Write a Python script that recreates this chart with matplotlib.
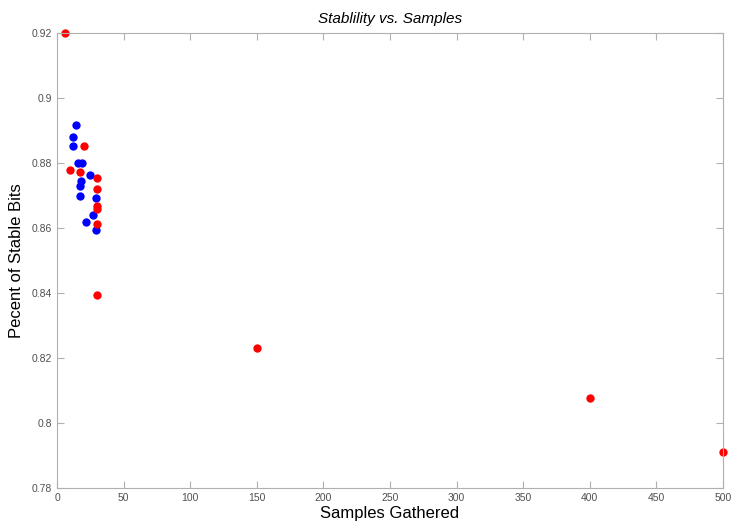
import matplotlib
matplotlib.use("Agg")
import matplotlib.pyplot as plt

plt.rcParams['font.family'] = ['Liberation Sans', 'DejaVu Sans']

# blue series
blue_x = [14, 12, 12, 16, 19, 25, 18, 17, 17, 29, 27, 22, 29]
blue_y = [0.8917, 0.8879, 0.8851, 0.8800, 0.8800, 0.8763, 0.8743, 0.8730,
          0.8699, 0.8692, 0.8640, 0.8617, 0.8595]

# red series
red_x = [6, 20, 10, 17, 30, 30, 30, 30, 30, 30, 150, 400, 500]
red_y = [0.9200, 0.8851, 0.8777, 0.8771, 0.8754, 0.8720, 0.8668, 0.8658,
         0.8612, 0.8393, 0.8232, 0.8078, 0.7911]

fig = plt.figure(figsize=(7.33, 5.23), dpi=100)
ax = fig.add_axes([0.078, 0.067, 0.908, 0.87])

ax.plot(blue_x, blue_y, 'o', color='#0000ff', markersize=6, markeredgewidth=0, clip_on=False)
ax.plot(red_x, red_y, 'o', color='#ff0000', markersize=6, markeredgewidth=0, clip_on=False)

ax.set_xlim(0, 500)
ax.set_ylim(0.78, 0.92)
ax.set_xticks(range(0, 501, 50))
ax.set_yticks([0.78, 0.8, 0.82, 0.84, 0.86, 0.88, 0.9, 0.92])
ax.set_yticklabels(['0.78', '0.8', '0.82', '0.84', '0.86', '0.88', '0.9', '0.92'])

for s in ax.spines.values():
    s.set_color('#b0b0b0')
ax.tick_params(direction='in', top=True, right=True, length=5, color='#b0b0b0',
               labelsize=7.5, labelcolor='#505050')

ax.set_title('Stablility vs. Samples', fontstyle='italic', fontsize=11, pad=7)
ax.set_xlabel('Samples Gathered', fontsize=12, labelpad=2)
ax.set_ylabel('Pecent of Stable Bits', fontsize=12, labelpad=6)

fig.savefig('out.png', dpi=100)
